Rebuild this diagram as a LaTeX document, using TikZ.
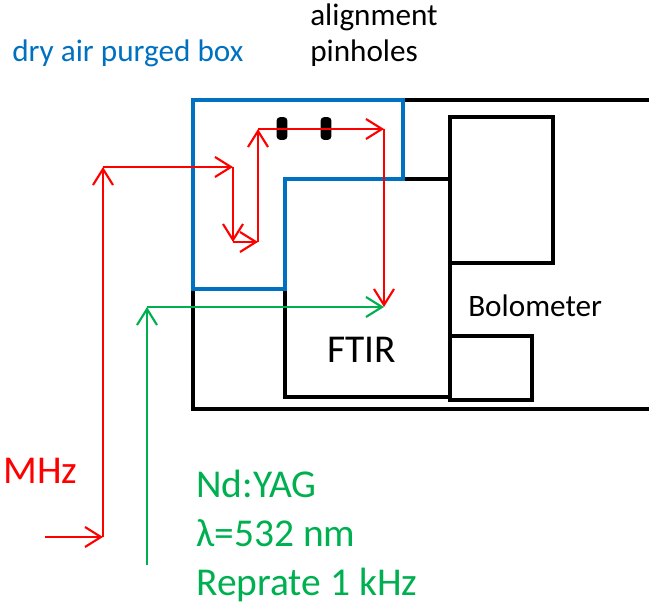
\documentclass[tikz,border=0pt]{standalone}
\usepackage{fontspec}
\setmainfont{Carlito}
\usetikzlibrary{arrows.meta}
\definecolor{offred}{RGB}{255,0,0}
\definecolor{offgreen}{RGB}{0,176,80}
\definecolor{offblue}{RGB}{0,112,192}
\tikzset{
  frame/.style={draw=black, line width=2.5pt, line join=miter},
  purge/.style={draw=offblue, line width=2.5pt, line join=miter},
  beam/.style={line width=1.6pt, -{Straight Barb[length=12pt,width=15pt,line width=1.6pt]}},
  redbeam/.style={beam, draw=offred},
  greenbeam/.style={beam, draw=offgreen},
  smalltxt/.style={inner sep=0pt, anchor=base west, font=\fontsize{23.4}{28}\selectfont},
  bigtxt/.style={inner sep=0pt, anchor=base west, font=\fontsize{29.6}{36}\selectfont},
  pinhole/.style={fill=black, rounded corners=2.5pt, minimum width=8pt, minimum height=17pt, inner sep=0pt}
}
\begin{document}
\begin{tikzpicture}[x=0.75pt,y=-0.75pt]
\useasboundingbox (0,0) rectangle (649,605);
% black housing
\draw[frame] (649,100) -- (193,100) -- (193,409) -- (649,409);
\draw[frame] (450,179) -- (285,179) -- (285,397) -- (450,397);
\draw[frame] (450,179) -- (450,400);
\draw[frame] (450,117) rectangle (553,263);
\draw[frame] (450,336) rectangle (532,400);
% blue purged box
\draw[purge] (193,100) -- (403,100) -- (403,179) -- (285,179) -- (285,289) -- (193,289) -- cycle;
% pinholes
\node[pinhole] (ph1) at (282,128.5) {};
\node[pinhole] (ph2) at (326,128.5) {};
% red beam path
\coordinate (r0) at (45,537);
\coordinate (r1) at (103,537);
\coordinate (r2) at (103,167);
\coordinate (r3) at (233,167);
\coordinate (r4) at (233,242);
\coordinate (r5) at (258,242);
\coordinate (r6) at (258,129);
\coordinate (r7) at (384,129);
\coordinate (r8) at (384,307);
\draw[redbeam] (r0) -- (r1);
\draw[redbeam] (r1) -- (r2);
\draw[redbeam] (r2) -- (r3);
\draw[redbeam] (r3) -- (r4);
\draw[redbeam] (r4) -- (r5);
\draw[redbeam] (r5) -- (r6);
\draw[redbeam] (r6) -- (r7);
\draw[redbeam] (r7) -- (r8);
% green beam path
\coordinate (g0) at (147,565);
\coordinate (g1) at (147,307);
\coordinate (g2) at (384,307);
\draw[greenbeam] (g0) -- (g1);
\draw[greenbeam] (g1) -- (g2);
% labels
\node[smalltxt, text=offblue] (dry) at (12,62) {dry air purged box};
\node[smalltxt] (al1) at (310,26) {alignment};
\node[smalltxt] (al2) at (310,62) {pinholes};
\node[smalltxt] (bolo) at (468,317) {Bolometer};
\node[bigtxt] (ftir) at (327,363) {FTIR};
\node[bigtxt, text=offred] (mhz) at (3,483) {MHz};
\node[bigtxt, text=offgreen] (nd) at (196,497) {Nd:YAG};
\node[bigtxt, text=offgreen] (lam) at (196,546) {λ=532 nm};
\node[bigtxt, text=offgreen] (rep) at (196,595) {Reprate 1 kHz};
\end{tikzpicture}
\end{document}
